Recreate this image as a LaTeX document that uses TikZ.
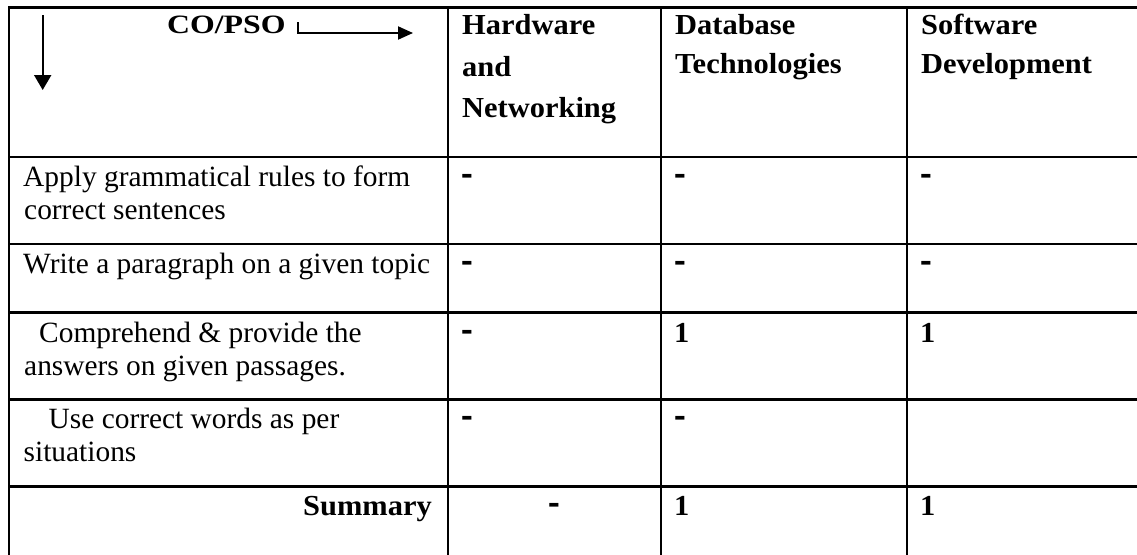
\documentclass[tikz,border=0pt]{standalone}
\usepackage{fontspec}
\usepackage{graphicx}
\setmainfont{Liberation Serif}
\newfontfamily\hdrfont{Liberation Serif}[FakeStretch=1.05]
\usetikzlibrary{arrows.meta}
\tikzset{
  gridline/.style={line width=2.2pt, line cap=rect},
  body/.style={anchor=base west, inner sep=0pt, font=\fontsize{29.4}{33}\selectfont},
  hdr/.style={anchor=base west, inner sep=0pt, font=\hdrfont\bfseries\fontsize{29}{40}\selectfont},
  hdrr/.style={hdr, anchor=base east},
  hdrc/.style={hdr, anchor=base},
  dashcell/.style={hdr},
  arr/.style={line width=2pt, line join=miter, -{Triangle[length=15pt,width=13pt]}},
}
\newcommand{\bdash}{\scalebox{1.15}[1.5]{-}}
\begin{document}
\begin{tikzpicture}[x=1pt,y=-1pt]
\useasboundingbox (0,0) rectangle (1137,554);
\fill[white] (0,0) rectangle (1137,554);
% grid
\draw[gridline] (9,7.5) -- (1137,7.5);
\foreach \yy in {157,244,312.5,399.5,486.5} \draw[gridline] (9,\yy) -- (1137,\yy);
\foreach \xx in {9,448,661,907} \draw[gridline] (\xx,7.5) -- (\xx,554);

% header cell
\node[anchor=base west, inner sep=0pt, font=\bfseries\fontsize{26.5}{30}\selectfont] (copso) at (167,33.5) {\scalebox{1.2}[1]{CO/PSO}};
\coordinate (ltop) at (298,22);
\coordinate (lcorner) at (298,33);
\coordinate (lend) at (413,33);
\draw[arr] (ltop) -- (lcorner) -- (lend);
\coordinate (dtop) at (42.7,15);
\coordinate (dend) at (42.7,90);
\draw[arr, -{Triangle[length=15pt,width=17pt]}] (dtop) -- (dend);

\node[hdr] (h1a) at (462,34) {Hardware};
\node[hdr] (h1b) at (462,76) {and};
\node[hdr] (h1c) at (462,117) {Networking};
\node[hdr] (h2a) at (675,34) {Database};
\node[hdr] (h2b) at (675,73) {Technologies};
\node[hdr] (h3a) at (921,34) {Software};
\node[hdr] (h3b) at (921,73) {Development};

% row 1
\node[body] (r1a) at (23,186) {Apply grammatical rules to form};
\node[body] (r1b) at (24,219) {correct sentences};
\node[dashcell] (r1c2) at (461.5,186) {\bdash};
\node[dashcell] (r1c3) at (674.5,186) {\bdash};
\node[dashcell] (r1c4) at (920.5,186) {\bdash};
% row 2
\node[body] (r2a) at (23,273) {Write a paragraph on a given topic};
\node[dashcell] (r2c2) at (461.5,273) {\bdash};
\node[dashcell] (r2c3) at (674.5,273) {\bdash};
\node[dashcell] (r2c4) at (920.5,273) {\bdash};
% row 3
\node[body] (r3a) at (39,342) {Comprehend \& provide the};
\node[body] (r3b) at (24,375) {answers on given passages.};
\node[dashcell] (r3c2) at (461.5,342) {\bdash};
\node[hdr] (r3c3) at (674,342) {1};
\node[hdr] (r3c4) at (920,342) {1};
% row 4
\node[body] (r4a) at (48.5,428) {Use correct words as per};
\node[body] (r4b) at (23.5,461) {situations};
\node[dashcell] (r4c2) at (461.5,428) {\bdash};
\node[dashcell] (r4c3) at (674.5,428) {\bdash};
% summary
\node[hdrr] (s1) at (432,515) {Summary};
\node[hdrc] (s2) at (554.5,515) {\bdash};
\node[hdr] (s3) at (674,515) {1};
\node[hdr] (s4) at (920,515) {1};
\end{tikzpicture}
\end{document}
